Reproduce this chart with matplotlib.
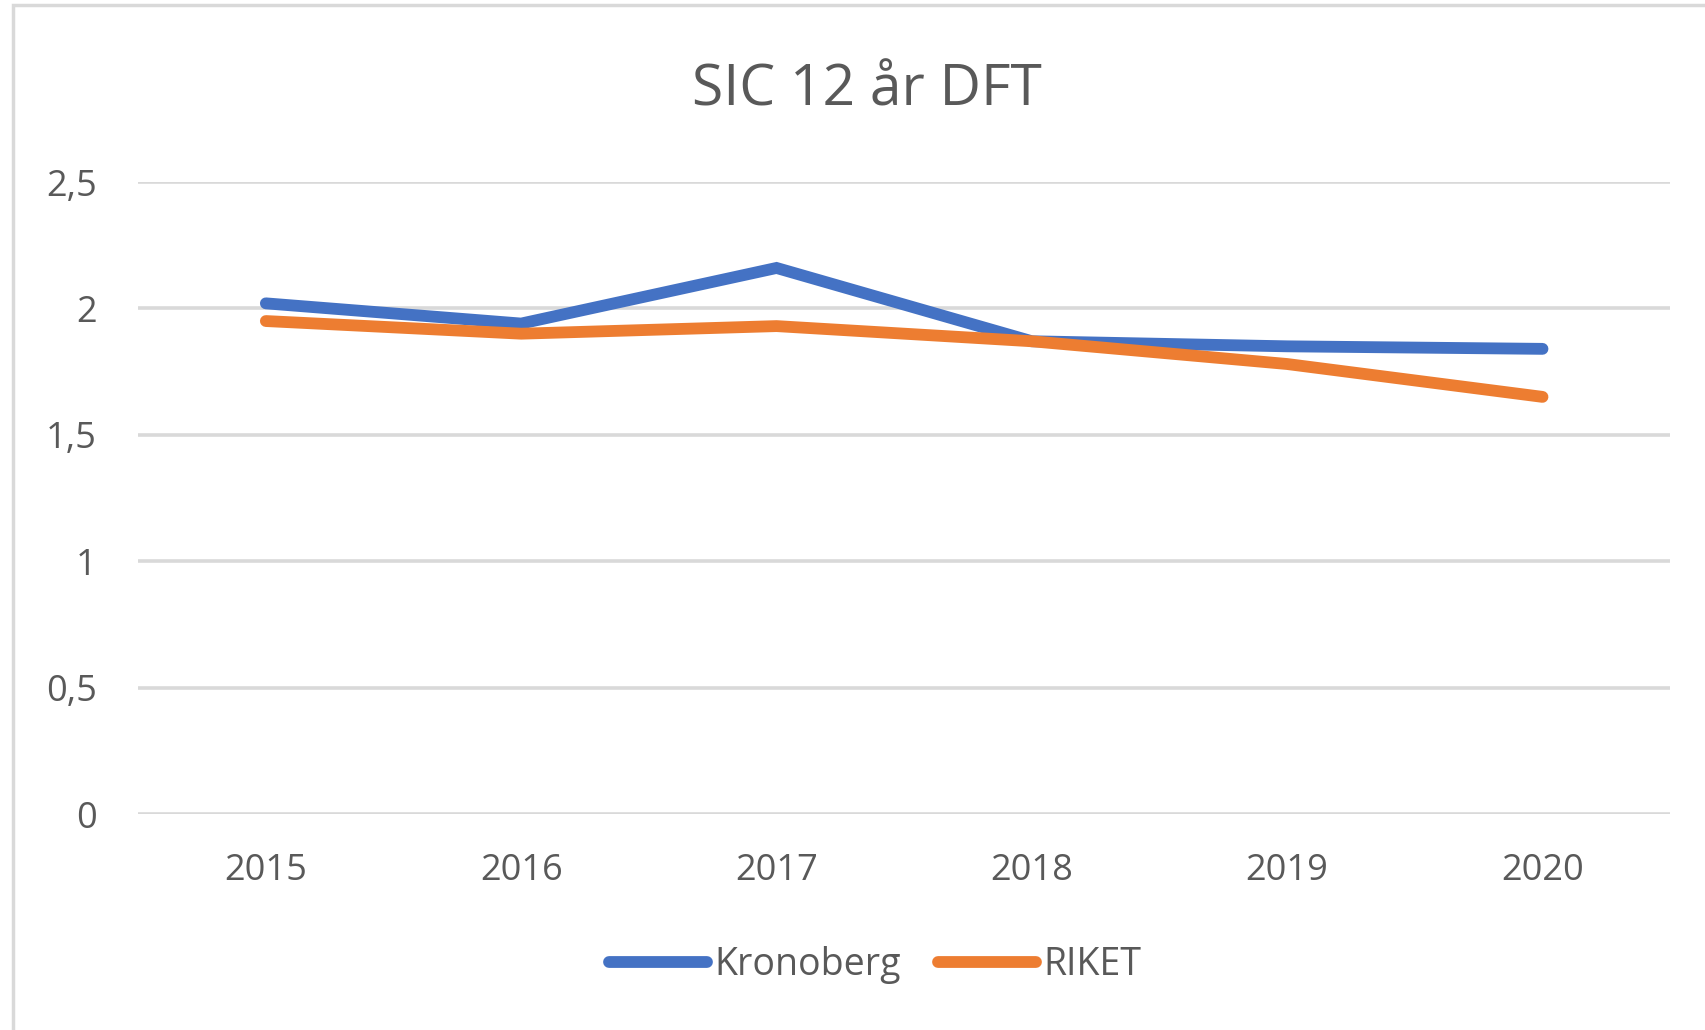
import matplotlib.pyplot as plt
from matplotlib.patches import Rectangle

years = ['2015', '2016', '2017', '2018', '2019', '2020']
kronoberg = [2.02, 1.94, 2.16, 1.87, 1.85, 1.84]
riket = [1.95, 1.90, 1.93, 1.87, 1.78, 1.65]
yticks = [0, 0.5, 1, 1.5, 2, 2.5]
ylabels = ['0', '0,5', '1', '1,5', '2', '2,5']

plt.rcParams['font.family'] = ['Open Sans', 'DejaVu Sans']
text_col = '#595959'

fig = plt.figure(figsize=(17.06, 10.30), dpi=100)
fig.patch.set_facecolor('white')

# chart frame (only left and top edge visible in the crop)
fig.patches.append(Rectangle((13 / 1706, -0.05), 1.2, 1 - 5 / 1030 + 0.05,
                             transform=fig.transFigure, fill=False,
                             edgecolor='#d9d9d9', linewidth=2.5))

ax = fig.add_axes([0.081, 0.2097, 0.898, 0.6136])
x = range(len(years))
ax.plot(x, kronoberg, color='#4472C4', linewidth=8.5, solid_capstyle='round',
        solid_joinstyle='miter', label='Kronoberg', zorder=3)
ax.plot(x, riket, color='#ED7D31', linewidth=8.5, solid_capstyle='round',
        solid_joinstyle='miter', label='RIKET', zorder=3)

ax.set_xlim(-0.5, 5.5)
ax.set_ylim(0, 2.5)
ax.set_yticks(yticks)
ax.set_yticklabels(ylabels)
ax.set_xticks(list(x))
ax.set_xticklabels(years)
ax.grid(axis='y', color='#d9d9d9', linewidth=2.6)
ax.set_axisbelow(True)
for s in ax.spines.values():
    s.set_visible(False)
ax.tick_params(length=0, labelsize=26, labelcolor=text_col)
ax.tick_params(axis='y', pad=30)
ax.tick_params(axis='x', pad=28)

fig.text(0.508, 0.912, 'SIC 12 år DFT', ha='center', va='center',
         fontsize=41, color=text_col)

fig.legend(loc='center', bbox_to_anchor=(0.513, 0.063), ncol=2, frameon=False,
           fontsize=27, handlelength=2.6, handletextpad=0.2, columnspacing=1.0,
           labelcolor=text_col)

fig.savefig('out.png', dpi=100, facecolor='white')
